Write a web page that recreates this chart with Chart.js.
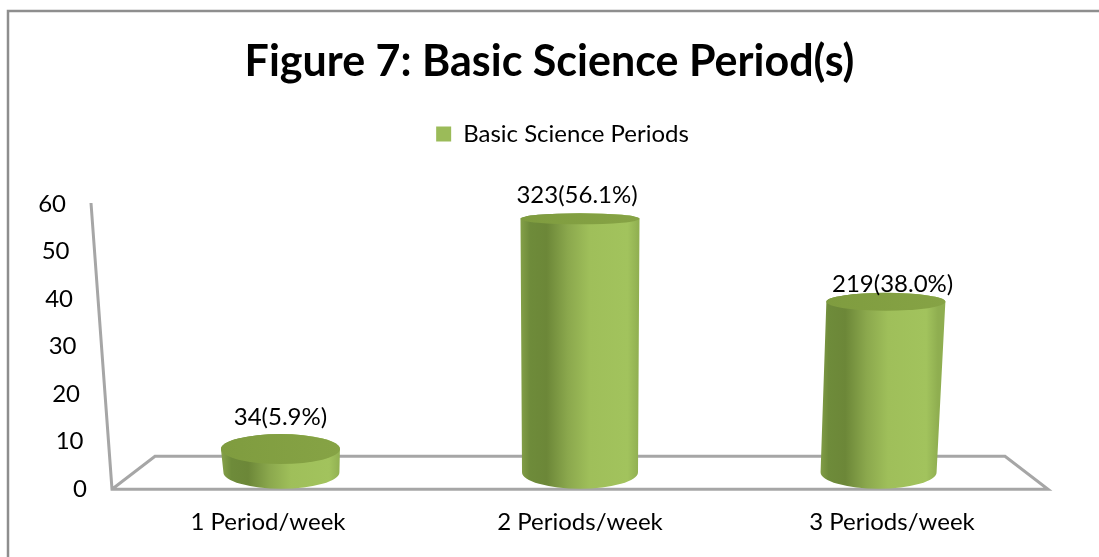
<!DOCTYPE html>
<html><head><meta charset="utf-8">
<style>html,body{margin:0;padding:0;background:#fff}#w{width:1099px;height:557px}</style>
<script src="https://cdn.jsdelivr.net/npm/chart.js@4"></script>
</head><body><div id="w"><canvas id="c" width="1099" height="557"></canvas></div>
<script>
const categories = ['1 Period/week', '2 Periods/week', '3 Periods/week'];
const seriesName = 'Basic Science Periods';
const percentages = [5.9, 56.1, 38.0];
const counts = [34, 323, 219];
const yTicks = [0, 10, 20, 30, 40, 50, 60];
const titleText = 'Figure 7: Basic Science Period(s)';

const FONT = 'Lato, "Open Sans", sans-serif';
const GREY = '#a6a6a6';

const scene = {
  id: 'scene',
  afterLayout(chart) {
    const l = chart.legend;
    l.left += 13; l.right += 13;
    l.top -= 47; l.bottom -= 47;
  },
  beforeDraw(chart) {
    const c = chart.ctx;
    c.save();
    c.fillStyle = '#fff';
    c.fillRect(0, 0, chart.width, chart.height);
    c.strokeStyle = '#8e8e8e';
    c.lineWidth = 2.5;
    c.beginPath();
    c.moveTo(1099, 11); c.lineTo(8, 11); c.lineTo(8, 557);
    c.stroke();
    c.restore();
  },
  beforeDatasetDraw(chart, args) {
    const c = chart.ctx, xs = chart.scales.x, ys = chart.scales.y;
    const y0 = ys.getPixelForValue(0) + 1, yTop = ys.getPixelForValue(60);
    const L = xs.left, R = xs.right;
    c.save();
    c.strokeStyle = GREY; c.lineWidth = 3; c.lineJoin = 'miter';
    c.beginPath();
    c.moveTo(91, yTop);
    c.lineTo(L, y0);
    c.lineTo(R, y0);
    c.lineTo(R - 43, y0 - 33);
    c.lineTo(L + 43, y0 - 33);
    c.lineTo(L, y0);
    c.stroke();
    c.fillStyle = '#000';
    c.font = '24px ' + FONT;
    c.textAlign = 'right'; c.textBaseline = 'middle';
    yTicks.forEach(v => {
      const p = ys.getPixelForValue(v);
      c.fillText(String(v), 87 - v * 0.35, p + 1);
    });
    const cx = (xs.left + xs.right) / 2;
    const els = chart.getDatasetMeta(args.index).data;
    els.forEach((el, i) => {
      const baseX = cx + (el.x - cx) * 0.957;
      const baseY = y0 - 17;
      const topY = 0.965 * el.y + 5;
      const topX = baseX + (baseY - topY) * (el.x - cx) * 1.37e-4;
      const rxT = 59.5, rxB = 58;
      const ryT = 5.5 + 0.041 * (topY - 217);
      const ryB = 16.5;
      const g = c.createLinearGradient(baseX - rxT, 0, baseX + rxT, 0);
      g.addColorStop(0, '#84a048');
      g.addColorStop(0.08, '#6e8b3a');
      g.addColorStop(0.22, '#6c8738');
      g.addColorStop(0.40, '#8ba84d');
      g.addColorStop(0.58, '#9fbf5a');
      g.addColorStop(0.9, '#a2c35d');
      g.addColorStop(1, '#8fae50');
      c.fillStyle = g;
      c.beginPath();
      c.moveTo(topX - rxT, topY);
      c.lineTo(baseX - rxB, baseY);
      c.ellipse(baseX, baseY, rxB, ryB, 0, Math.PI, 0, true);
      c.lineTo(topX + rxT, topY);
      c.ellipse(topX, topY, rxT, ryT, 0, 0, Math.PI, true);
      c.closePath();
      c.fill();
      const t = c.createLinearGradient(topX - rxT, 0, topX + rxT, 0);
      t.addColorStop(0, '#7f9c3f');
      t.addColorStop(1, '#86a345');
      c.fillStyle = t;
      c.beginPath();
      c.ellipse(topX, topY, rxT, ryT, 0, 0, Math.PI * 2);
      c.fill();
    });
    c.restore();
    return false;
  },
  afterDatasetsDraw(chart) {
    const c = chart.ctx;
    const labelGap = [32, 24, 18];
    const xShift = [-1, -3, 14];
    c.save();
    c.fillStyle = '#000';
    c.font = '24px ' + FONT;
    c.textAlign = 'center'; c.textBaseline = 'middle';
    const xs = chart.scales.x, cx = (xs.left + xs.right) / 2;
    chart.getDatasetMeta(0).data.forEach((el, i) => {
      const topY = 0.965 * el.y + 5;
      const x = cx + (el.x - cx) * 0.957 + xShift[i];
      c.fillText(counts[i] + '(' + percentages[i].toFixed(1) + '%)', x, topY - labelGap[i]);
    });
    c.restore();
  }
};

new Chart(document.getElementById('c'), {
  type: 'bar',
  data: {
    labels: categories,
    datasets: [{ label: seriesName, data: percentages, backgroundColor: '#9bbb59', borderWidth: 0, yAxisID: 'y' }]
  },
  plugins: [scene],
  options: {
    responsive: false,
    animation: false,
    layout: { padding: { left: 0, right: 0, top: 0, bottom: 0 } },
    scales: {
      x: {
        grid: { display: false, drawTicks: false },
        border: { display: false },
        ticks: { color: '#000', font: { family: FONT, size: 24 }, padding: 20, maxRotation: 0 }
      },
      y: {
        min: 0, max: 60,
        afterFit(s) { s.width = 112; },
        grid: { display: false, drawTicks: false },
        border: { display: false },
        ticks: { display: false, stepSize: 10 }
      },
      y2: {
        position: 'right',
        afterFit(s) { s.width = 51; },
        grid: { display: false, drawTicks: false },
        border: { display: false },
        ticks: { display: false }
      }
    },
    plugins: {
      tooltip: { enabled: false },
      title: {
        display: true, text: titleText, color: '#000',
        font: { family: FONT, size: 43, weight: 'bold' },
        padding: { top: 36, bottom: 73.4 }
      },
      legend: {
        display: true, position: 'top',
        labels: { color: '#000', font: { family: FONT, size: 24 }, boxWidth: 15, boxHeight: 15, padding: 8 }
      }
    }
  }
});
</script></body></html>
